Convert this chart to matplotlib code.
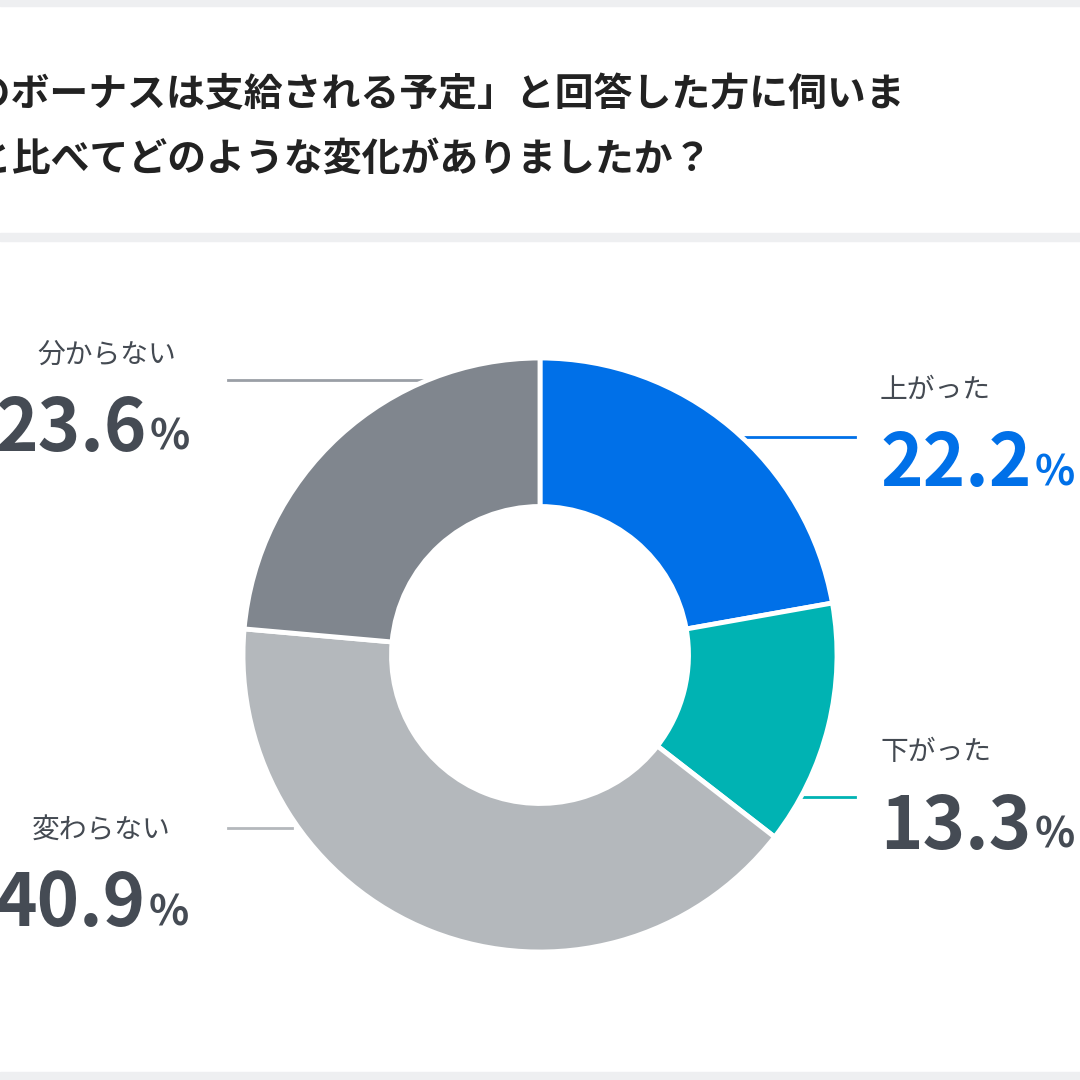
import matplotlib
matplotlib.use("Agg")
import matplotlib.pyplot as plt
from matplotlib.patches import Rectangle

categories = ["上がった", "下がった", "変わらない", "分からない"]
values = [22.2, 13.3, 40.9, 23.6]
colors = ["#0070E8", "#00B3B3", "#B4B8BC", "#80868E"]
title1 = "「今年のボーナスは支給される予定」と回答した方に伺いま"
title2 = "年と比べてどのような変化がありましたか？"

FONT = "Noto Sans CJK JP"
fig = plt.figure(figsize=(10.8, 10.8), dpi=100)
fig.patch.set_facecolor("white")
ax = fig.add_axes([0, 0, 1, 1])
ax.set_xlim(0, 1080); ax.set_ylim(1080, 0); ax.axis("off")

# bands
ax.add_patch(Rectangle((0, 0), 1080, 6, color="#EEEFF1"))
ax.add_patch(Rectangle((0, 233), 1080, 8, color="#EEEFF1"))
ax.add_patch(Rectangle((0, 1072), 1080, 8, color="#EEEFF1"))

# title (clipped at edges)
ax.text(-145, 95, title1, fontsize=28, fontweight="bold", family=FONT, color="#222222", va="center", ha="left")
ax.text(-65, 160, title2, fontsize=28, fontweight="bold", family=FONT, color="#222222", va="center", ha="left")

# donut
cx, cy, R = 540, 655, 297
pax = fig.add_axes([(cx - R) / 1080, (1080 - cy - R) / 1080, 2 * R / 1080, 2 * R / 1080])
pax.pie(values, colors=colors, startangle=90, counterclock=False, radius=1,
        wedgeprops=dict(width=0.5, edgecolor="white", linewidth=3.5))
pax.set_aspect("equal"); pax.set_xlim(-1, 1); pax.set_ylim(-1, 1)

# leader lines
ax.plot([740, 855], [437, 437], color=colors[0], lw=2)
ax.plot([775, 855], [797, 797], color=colors[1], lw=2)
ax.plot([228, 430], [380, 380], color="#9A9FA6", lw=2)
ax.plot([228, 292], [828, 828], color="#B4B8BC", lw=2)

dark = "#454B54"
labels = [
    (categories[0], values[0], 880, 390, 465, colors[0]),
    (categories[1], values[1], 880, 752, 828, dark),
    (categories[2], values[2], 32, 830, 905, dark),
    (categories[3], values[3], 37, 355, 430, dark),
]
fig.canvas.draw()
r = fig.canvas.get_renderer()
for name, v, x, ly, ny, col in labels:
    ax.text(x, ly, name, fontsize=20, family=FONT, color="#444A52", va="center", ha="left")
    nx = -5 if x < 500 else x
    t = ax.text(nx, ny, f"{v:.1f}", fontsize=52, fontweight="bold", family=FONT, color=col, va="center", ha="left")
    bb = t.get_window_extent(r)
    xe = ax.transData.inverted().transform((bb.x1, bb.y0))[0]
    ax.text(xe + 3, ny + 8, "%", fontsize=30, fontweight="bold", family=FONT, color=col, va="center", ha="left")

fig.savefig("out.png", dpi=100, facecolor="white")
